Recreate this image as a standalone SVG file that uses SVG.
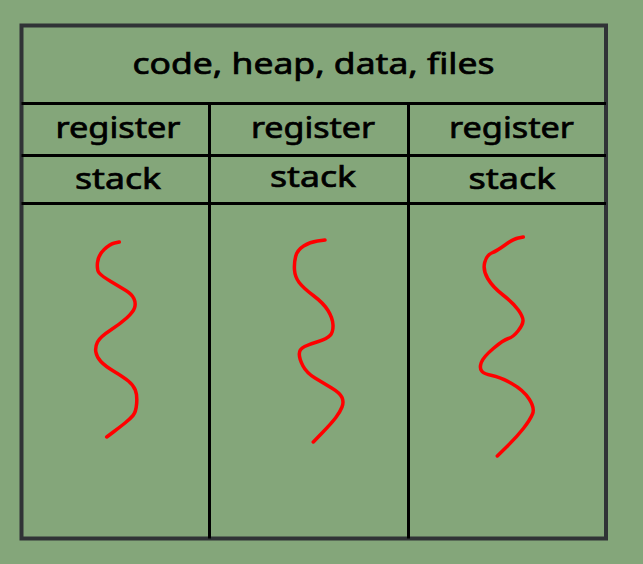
<svg xmlns="http://www.w3.org/2000/svg" width="643" height="564" viewBox="0 0 643 564">
<style>
.t{font-family:"Noto Sans","DejaVu Sans",sans-serif;font-size:29px;fill:#000;stroke:#000;stroke-width:0.7;text-anchor:middle}
.ln{stroke:#000;stroke-width:3;fill:none}
.sq{stroke:#ff0000;stroke-width:3.5;fill:none;stroke-linecap:round;stroke-linejoin:round}
</style>
<rect width="643" height="564" fill="#84a67a"/>
<g id="frame">
<rect x="21.5" y="25.5" width="584.5" height="513" fill="none" stroke="#303336" stroke-width="4"/>
</g>
<g id="grid">
<line class="ln" x1="21.5" y1="103.5" x2="606" y2="103.5"/>
<line class="ln" x1="21.5" y1="155.5" x2="606" y2="155.5"/>
<line class="ln" x1="21.5" y1="203.5" x2="606" y2="203.5"/>
<line class="ln" x1="209.5" y1="103.5" x2="209.5" y2="538.5"/>
<line class="ln" x1="408.5" y1="103.5" x2="408.5" y2="538.5"/>
</g>
<g id="shared">
<text class="t" x="313.5" y="74" textLength="362" lengthAdjust="spacingAndGlyphs">code, heap, data, files</text>
</g>
<g id="thread1">
<text class="t" x="118" y="138" textLength="125" lengthAdjust="spacingAndGlyphs">register</text>
<text class="t" x="118" y="189" textLength="86" lengthAdjust="spacingAndGlyphs">stack</text>
<path class="sq" d="M119.3,242 L114.65,243 Q110,244 104.15,249.5 Q98.3,255 97.5,262.5 Q96.7,270 99.2,273 Q101.7,276 110.85,281.5 Q120,287 125.85,290.5 Q131.7,294 133.85,298.5 Q136,303 134.65,307.5 Q133.3,312 126.65,318 Q120,324 110,330.5 Q100,337 97.5,342 Q95,347 95.85,352 Q96.7,357 100.85,361.5 Q105,366 114.15,371.5 Q123.3,377 128.3,381 Q133.3,385 135.3,390 Q137.3,395 136.65,403.5 Q136,412 133,415.5 Q130,419 125,423 Q120,427 113.35,432 L106.7,437"/>
</g>
<g id="thread2">
<text class="t" x="313" y="138" textLength="124" lengthAdjust="spacingAndGlyphs">register</text>
<text class="t" x="313" y="187" textLength="86" lengthAdjust="spacingAndGlyphs">stack</text>
<path class="sq" d="M325,240 L317.5,241 Q310,242 303.65,246 Q297.3,250 295.65,256.5 Q294,263 294.5,270 Q295,277 299.15,282.5 Q303.3,288 313.3,295.5 Q323.3,303 328,310.5 Q332.7,318 333,325 Q333.3,332 330,335.5 Q326.7,339 318.35,341.5 Q310,344 304.65,346.5 Q299.3,349 299.3,354 Q299.3,359 303,366 Q306.7,373 315,378 Q323.3,383 331.65,388 Q340,393 342,397.5 Q344,402 342,407 Q340,412 335.85,417.5 Q331.7,423 322.5,432.5 L313.3,442"/>
</g>
<g id="thread3">
<text class="t" x="511.5" y="138" textLength="125" lengthAdjust="spacingAndGlyphs">register</text>
<text class="t" x="512" y="189" textLength="87" lengthAdjust="spacingAndGlyphs">stack</text>
<path class="sq" d="M523.3,237 L518.3,238 Q513.3,239 505,245 Q496.7,251 491.7,253 Q486.7,255 484.7,262.5 Q482.7,270 487.7,278.5 Q492.7,287 503,295 Q513.3,303 518.3,310 Q523.3,317 523,321 Q522.7,325 518,331 Q513.3,337 508.3,338.5 Q503.3,340 493.3,348.5 Q483.3,357 481.3,362.5 Q479.3,368 481.65,371 Q484,374 492,375.5 Q500,377 511.65,383.5 Q523.3,390 529.15,399 Q535,408 532.5,414 Q530,420 523.35,428.5 Q516.7,437 507,446.5 L497.3,456"/>
</g>
</svg>
